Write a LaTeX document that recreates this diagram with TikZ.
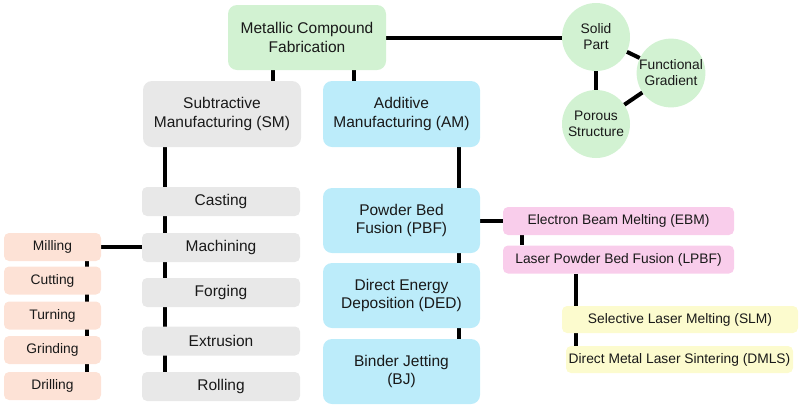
\documentclass[tikz,border=0pt]{standalone}
\usepackage{fontspec}
\setmainfont{Liberation Sans}
\usetikzlibrary{backgrounds}
\definecolor{cgreen}{RGB}{210,242,210}
\definecolor{cgray}{RGB}{232,232,232}
\definecolor{cblue}{RGB}{188,236,250}
\definecolor{corange}{RGB}{253,226,214}
\definecolor{cpink}{RGB}{249,205,235}
\definecolor{cyellow}{RGB}{252,251,206}
\tikzset{
  bigbox/.style={rectangle, rounded corners=9pt, inner sep=0pt, align=center,
    font=\fontsize{15.5}{18.5}\selectfont, text=black!90},
  smallbox/.style={rectangle, rounded corners=5pt, inner sep=0pt, align=center,
    font=\fontsize{13.8}{16}\selectfont, text=black!90},
  blob/.style={circle, fill=cgreen, minimum size=68pt, inner sep=0pt, align=center,
    font=\fontsize{13.8}{16}\selectfont, text=black!90},
  link/.style={line width=4pt, black},
  thin link/.style={line width=3.2pt, black}
}
\begin{document}
\begin{tikzpicture}[x=1pt,y=-1pt]
\useasboundingbox (0,0) rectangle (800,408);
% top
\node[bigbox, fill=cgreen, minimum width=158pt, minimum height=65pt] (top) at (307,37.5) {Metallic Compound\\Fabrication};
\node[bigbox, fill=cgray, minimum width=158pt, minimum height=66pt] (sm) at (222,114) {Subtractive\\Manufacturing (SM)};
\node[bigbox, fill=cblue, minimum width=157pt, minimum height=66pt] (am) at (401.5,114) {Additive\\Manufacturing (AM)};
% circles
\node[blob] (solid) at (596,37) {Solid\\Part};
\node[blob] (func) at (671,73) {Functional\\Gradient};
\node[blob] (porous) at (596,124) {Porous\\Structure};
% gray column
\node[bigbox, rounded corners=5pt, fill=cgray, minimum width=158pt, minimum height=29pt] (cast) at (221,201.5) {Casting};
\node[bigbox, rounded corners=5pt, fill=cgray, minimum width=158pt, minimum height=29pt] (mach) at (221,247.5) {Machining};
\node[bigbox, rounded corners=5pt, fill=cgray, minimum width=158pt, minimum height=29pt] (forg) at (221,292.5) {Forging};
\node[bigbox, rounded corners=5pt, fill=cgray, minimum width=158pt, minimum height=29pt] (extr) at (221,341) {Extrusion};
\node[bigbox, rounded corners=5pt, fill=cgray, minimum width=158pt, minimum height=29pt] (roll) at (221,386.5) {Rolling};
% orange column
\node[smallbox, fill=corange, minimum width=97pt, minimum height=28pt] (mill) at (52.5,247) {Milling};
\node[smallbox, fill=corange, minimum width=97pt, minimum height=28pt] (cut) at (52.5,280.5) {Cutting};
\node[smallbox, fill=corange, minimum width=97pt, minimum height=28pt] (turn) at (52.5,315.5) {Turning};
\node[smallbox, fill=corange, minimum width=97pt, minimum height=28pt] (grind) at (52.5,350) {Grinding};
\node[smallbox, fill=corange, minimum width=97pt, minimum height=28pt] (drill) at (52.5,386) {Drilling};
% blue column
\node[bigbox, fill=cblue, minimum width=157pt, minimum height=65pt] (pbf) at (401.5,220.5) {Powder Bed\\Fusion (PBF)};
\node[bigbox, fill=cblue, minimum width=157pt, minimum height=65pt] (ded) at (401.5,295.5) {Direct Energy\\Deposition (DED)};
\node[bigbox, fill=cblue, minimum width=157pt, minimum height=65pt] (bj) at (401.5,371.5) {Binder Jetting\\(BJ)};
% pink
\node[smallbox, fill=cpink, minimum width=231pt, minimum height=28pt] (ebm) at (618.5,221) {Electron Beam Melting (EBM)};
\node[smallbox, fill=cpink, minimum width=231pt, minimum height=28pt] (lpbf) at (618.5,259.5) {Laser Powder Bed Fusion (LPBF)};
% yellow
\node[smallbox, fill=cyellow, minimum width=236pt, minimum height=27pt] (slm) at (680,319.5) {Selective Laser Melting (SLM)};
\node[smallbox, fill=cyellow, minimum width=227pt, minimum height=27pt] (dmls) at (679.5,359.5) {Direct Metal Laser Sintering (DMLS)};
% connectors
\begin{scope}[on background layer]
\draw[link] ([xshift=-34pt]top.south) -- ([xshift=-34pt]top.south |- sm.north);
\draw[link] ([xshift=47pt]top.south) -- ([xshift=47pt]top.south |- am.north);
\draw[link] (top.east) -- (top.east -| solid.west);
\draw[link] (solid) -- (porous);
\draw[link] (solid) -- (func);
\draw[link] (porous) -- (func);
\draw[link] ([xshift=-57pt]sm.south) -- ([xshift=-57pt]sm.south |- roll.north);
\draw[link] (mill.east) -- (mach.west |- mill.east);
\draw[thin link] ([xshift=34.5pt]mill.south) -- ([xshift=34.5pt]mill.south |- drill.north);
\draw[link] ([xshift=57.5pt]am.south) -- ([xshift=57.5pt]am.south |- bj.north);
\draw[link] (pbf.east |- ebm.west) -- (ebm.west);
\draw[link] ([xshift=-96.5pt]ebm.south) -- ([xshift=-96.5pt]ebm.south |- lpbf.north);
\draw[link] ([xshift=-42.5pt]lpbf.south) -- ([xshift=-42.5pt]lpbf.south |- dmls.north);
\end{scope}
\end{tikzpicture}
\end{document}
